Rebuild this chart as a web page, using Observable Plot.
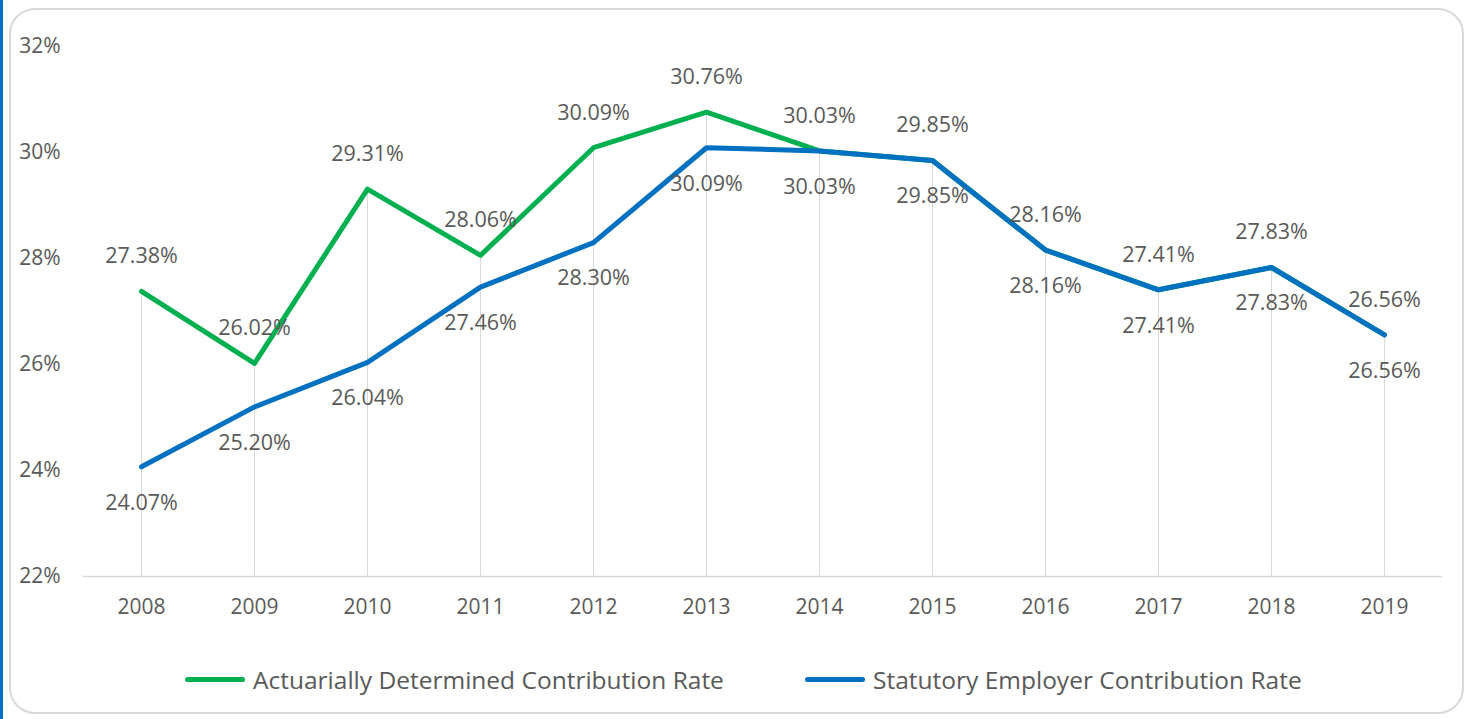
<!DOCTYPE html>
<html>
<head>
<meta charset="utf-8">
<script src="https://cdn.jsdelivr.net/npm/d3@7"></script>
<script src="https://cdn.jsdelivr.net/npm/@observablehq/plot@0.6"></script>
<style>
  html, body { margin: 0; padding: 0; background: #fff; }
  #wrap { position: relative; width: 1471px; height: 719px; overflow: hidden; font-family: "Open Sans", sans-serif; }
  #stripe { position: absolute; left: 0; top: 0; width: 3px; height: 719px; background: #0070C0; }
  #frame { position: absolute; left: 9px; top: 8px; width: 1455px; height: 706px; border: 2.5px solid #d9d9d9; border-radius: 26px; box-sizing: border-box; }
  #chart { position: absolute; left: 0; top: 0; }
  #legend { position: absolute; left: 0; top: 661px; width: 1471px; height: 36px; font-size: 24.5px; color: #595959; }
  .item { position: absolute; top: 0; display: flex; align-items: center; height: 36px; }
  .swatch { width: 60px; height: 5px; border-radius: 3px; margin-right: 8px; }
</style>
</head>
<body>
<div id="wrap">
  <div id="stripe"></div>
  <div id="frame"></div>
  <div id="chart"></div>
  <div id="legend"></div>
</div>
<script>
const years = [2008, 2009, 2010, 2011, 2012, 2013, 2014, 2015, 2016, 2017, 2018, 2019];
const actuarial = [27.38, 26.02, 29.31, 28.06, 30.09, 30.76, 30.03, 29.85, 28.16, 27.41, 27.83, 26.56];
const statutory = [24.07, 25.20, 26.04, 27.46, 28.30, 30.09, 30.03, 29.85, 28.16, 27.41, 27.83, 26.56];
const yTicks = [22, 24, 26, 28, 30, 32];
const seriesNames = ["Actuarially Determined Contribution Rate", "Statutory Employer Contribution Rate"];
const seriesColors = ["#00B050", "#0070C0"];

const rows = [];
years.forEach((yr, i) => {
  rows.push({year: String(yr), value: actuarial[i], series: seriesNames[0]});
});
years.forEach((yr, i) => {
  rows.push({year: String(yr), value: statutory[i], series: seriesNames[1]});
});
const drops = years.map((yr, i) => ({year: String(yr), top: Math.max(actuarial[i], statutory[i])}));
const fmt = v => v.toFixed(2) + "%";

const chart = Plot.plot({
  width: 1471,
  height: 650,
  marginLeft: 83,
  marginRight: 29,
  marginTop: 46,
  marginBottom: 74,
  style: {fontFamily: "Open Sans, sans-serif", background: "transparent", color: "#595959"},
  x: {type: "point", domain: years.map(String), padding: 0.5, label: null},
  y: {domain: [22, 32], label: null},
  color: {domain: seriesNames, range: seriesColors},
  marks: [
    Plot.ruleX(drops, {x: "year", y1: 22, y2: "top", stroke: "#d9d9d9", strokeWidth: 1}),
    Plot.ruleY([22], {stroke: "#d9d9d9", strokeWidth: 1.5}),
    Plot.axisY({ticks: yTicks, tickFormat: d => d + "%", tickSize: 0, tickPadding: 23, fontSize: 21, fill: "#595959"}),
    Plot.axisX({tickSize: 0, tickPadding: 23, fontSize: 21, fill: "#595959"}),
    Plot.line(rows, {x: "year", y: "value", z: "series", stroke: "series", strokeWidth: 5, strokeLinejoin: "round", strokeLinecap: "round"}),
    Plot.text(rows.filter(d => d.series === seriesNames[0]), {x: "year", y: "value", text: d => fmt(d.value), dy: -35, fontSize: 21.5, fill: "#595959"}),
    Plot.text(rows.filter(d => d.series === seriesNames[1]), {x: "year", y: "value", text: d => fmt(d.value), dy: 36, fontSize: 21.5, fill: "#595959"})
  ]
});
document.getElementById("chart").appendChild(chart);

const legend = document.getElementById("legend");
const legendX = [185, 805];
seriesNames.forEach((name, i) => {
  const item = document.createElement("div");
  item.className = "item";
  item.style.left = legendX[i] + "px";
  const sw = document.createElement("div");
  sw.className = "swatch";
  sw.style.background = seriesColors[i];
  const label = document.createElement("span");
  label.textContent = name;
  item.appendChild(sw);
  item.appendChild(label);
  legend.appendChild(item);
});
</script>
</body>
</html>
